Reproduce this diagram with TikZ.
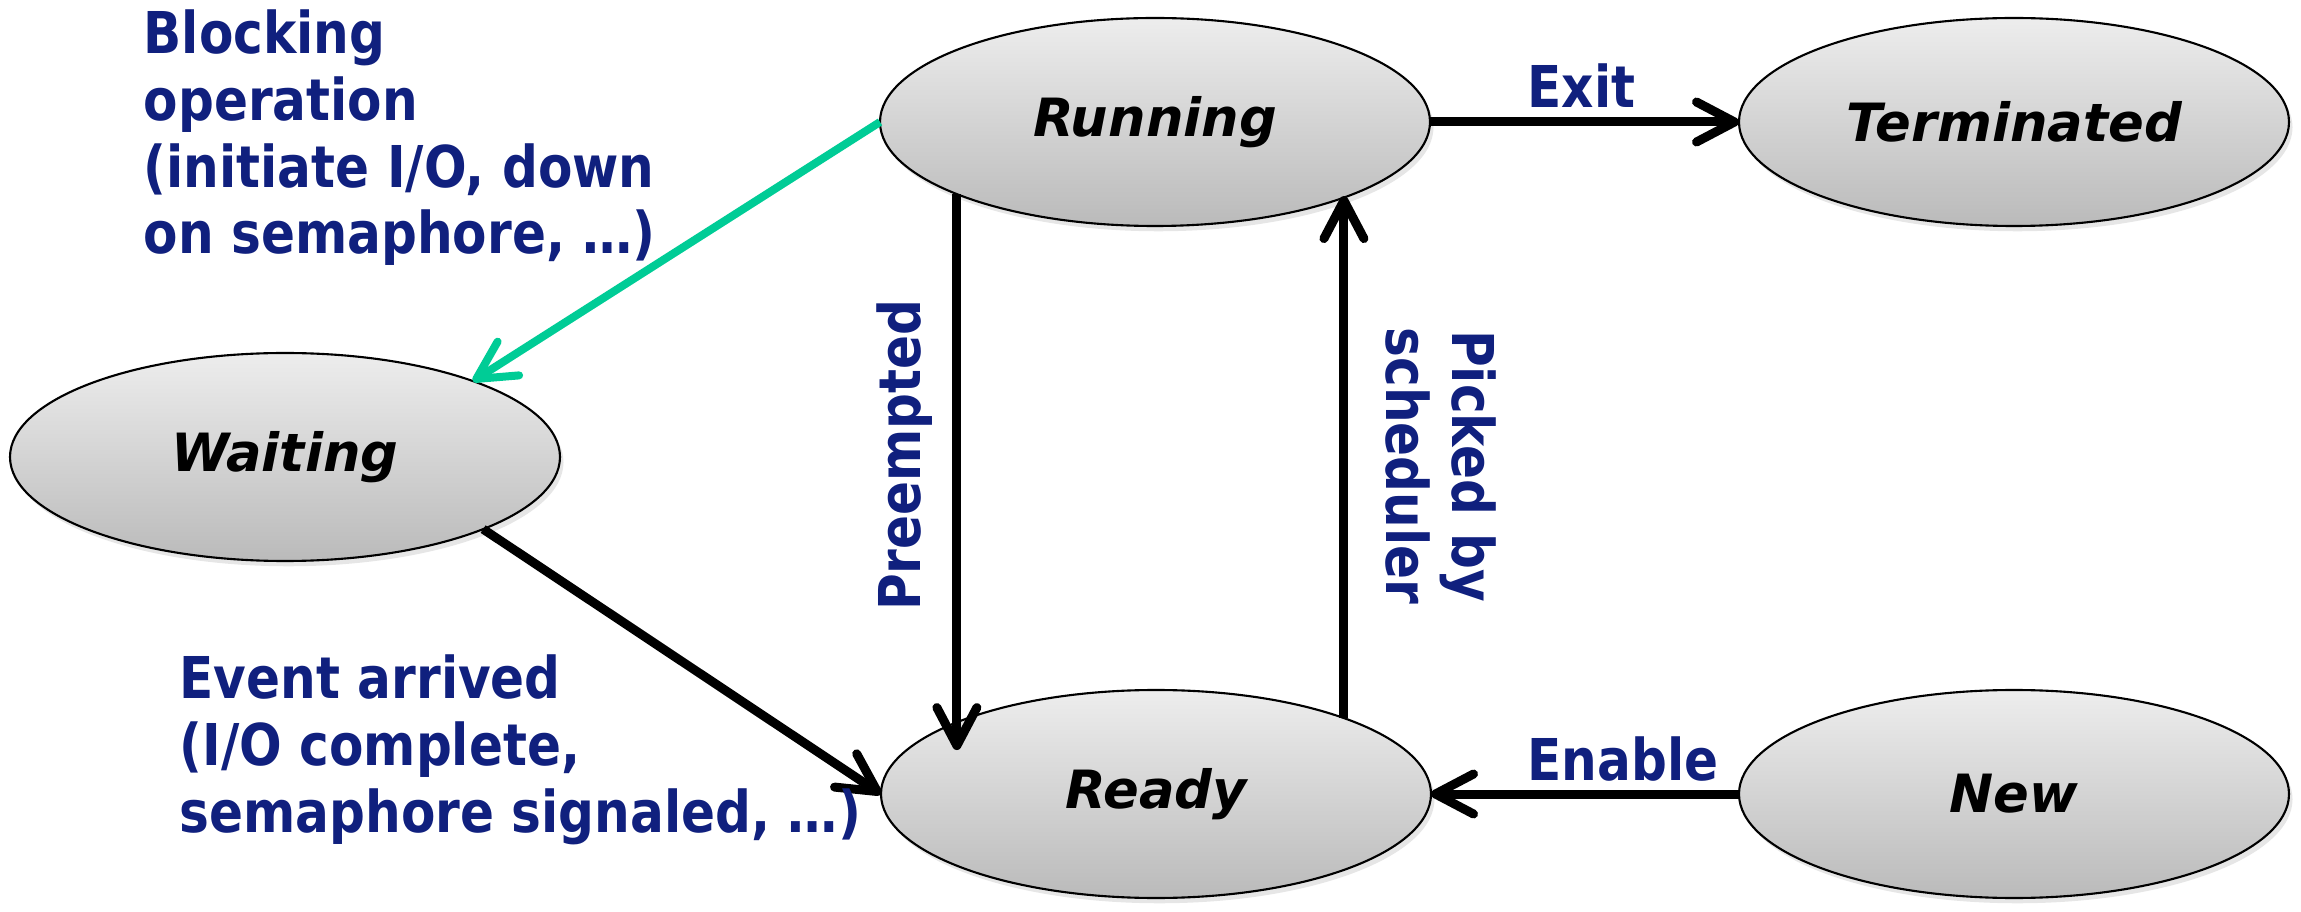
\documentclass[tikz,border=0pt]{standalone}
\usepackage{fontspec}
\setmainfont{DejaVu Sans}
\newfontfamily\lblfont{DejaVu Sans}[FakeStretch=0.87]
\usetikzlibrary{shapes.geometric, arrows.meta, shadows}
\definecolor{lblblue}{RGB}{16,32,126}
\definecolor{blkgreen}{RGB}{0,204,150}

\begin{document}
\begin{tikzpicture}[
  x=0.1mm, y=-0.1mm,
  state/.style={ellipse, draw=black, line width=0.6pt, top color=black!7, bottom color=black!27,
    minimum width=55mm, minimum height=20.8mm, inner sep=0pt, outer sep=0pt,
    font=\fontsize{15}{18}\selectfont\bfseries\itshape,
    drop shadow={shadow xshift=1pt, shadow yshift=-1.5pt, opacity=0.2}},
  lbl/.style={text=lblblue, inner sep=0pt, align=left,
    font=\lblfont\fontsize{16.4}{19}\selectfont\bfseries},
  arr/.style={-{Straight Barb[length=3.8mm, width=4mm, round]}, line width=0.9mm},
  blk/.style={arr, draw=blkgreen, line width=0.8mm}
]
\useasboundingbox (0,0) rectangle (2301,912);

% ---- STATES ----
\node[state] (running) at (1155,122) {Running};
\node[state] (term) at (2014,122) {Terminated};
\node[state] (waiting) at (285,457) {Waiting};
\node[state] (ready) at (1156,794) {Ready};
\node[state] (new) at (2014,794) {New};

% ---- TRANSITIONS ----
\draw[arr] (running.east) -- (term.west);
\draw[arr] (new.west) -- (ready.east);
\draw[arr] (running.200) -- (running.200 |- ready.170);
\draw[arr] (ready.22) -- (ready.22 |- running.-21);
\draw[blk] (running.west) -- (waiting.22);
\draw[arr] (waiting.-20) -- (ready.west);

% ---- LABELS ----
\node[lbl, anchor=base west] (exit) at (1527,108) {Exit};
\node[lbl, anchor=base west] (enable) at (1527,780) {Enable};
\node[lbl, anchor=base, rotate=90] (preempt) at (920,455) {Preempted};
\node[lbl, align=center, rotate=-90] (picked) at (1441,466) {Picked by\\scheduler};
\node[lbl, anchor=north west] (blocking) at (143,9)
  {Blocking\\operation\\(initiate I/O, down\\on semaphore, …)};
\node[lbl, anchor=north west] (event) at (179,654)
  {Event arrived\\(I/O complete,\\semaphore signaled, …)};
\end{tikzpicture}
\end{document}
